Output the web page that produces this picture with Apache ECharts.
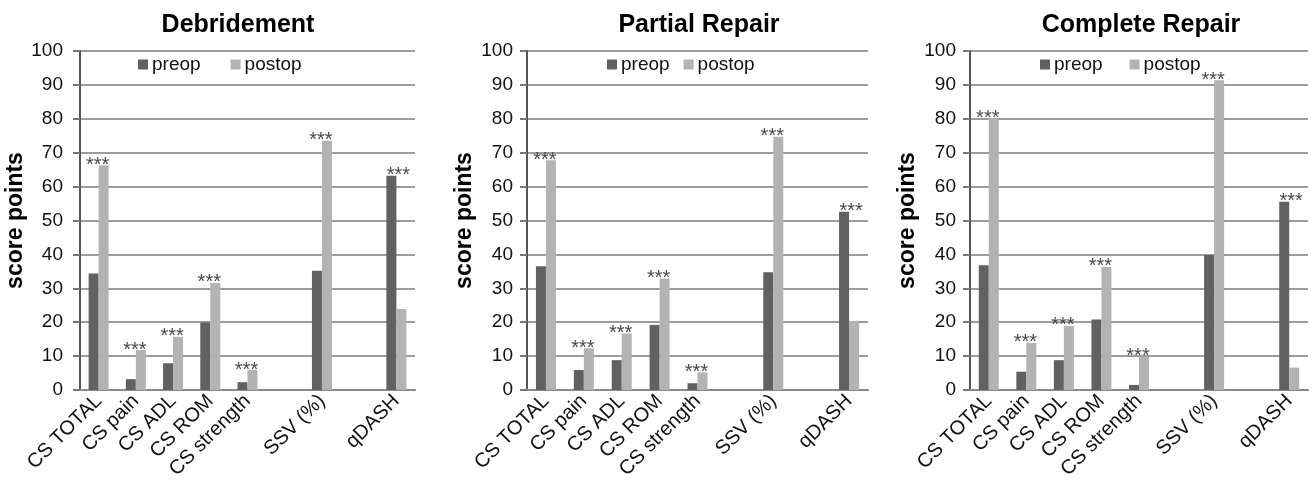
<!DOCTYPE html>
<html>
<head>
<meta charset="utf-8">
<script src="https://cdn.jsdelivr.net/npm/echarts@6/dist/echarts.min.js"></script>
<style>
html,body{margin:0;padding:0;background:#fff;}
#chart{width:1312px;height:484px;}
</style>
</head>
<body>
<div id="chart"></div>
<script>
// ---- data ----
const categories = ['CS TOTAL', 'CS pain', 'CS ADL', 'CS ROM', 'CS strength', '', 'SSV (%)', '', 'qDASH'];
const panelTitles = ['Debridement', 'Partial Repair', 'Complete Repair'];
const seriesNames = ['preop', 'postop'];
const yTicks = [0, 10, 20, 30, 40, 50, 60, 70, 80, 90, 100];
const significance = ['***', '***', '***', '***', '***', '', '***', '', '***'];

const debridementPreop  = [34.4, 3.2, 7.9, 19.9, 2.3, null, 35.2, null, 63.2];
const debridementPostop = [66.3, 11.8, 15.7, 31.6, 5.9, null, 73.5, null, 23.9];
const partialPreop      = [36.5, 5.9, 8.8, 19.2, 2.0, null, 34.7, null, 52.6];
const partialPostop     = [67.8, 12.3, 16.7, 32.9, 5.2, null, 74.7, null, 20.4];
const completePreop     = [36.8, 5.4, 8.8, 20.8, 1.5, null, 39.8, null, 55.5];
const completePostop    = [80.1, 13.9, 18.9, 36.3, 9.8, null, 91.4, null, 6.6];

const panelData = [
  [debridementPreop, debridementPostop],
  [partialPreop, partialPostop],
  [completePreop, completePostop]
];

// ---- layout / style ----
const FONT = '"Liberation Sans", Arial, sans-serif';
const PRE_COLOR = '#616161';
const POST_COLOR = '#b3b3b3';
const grids = [
  { left: 80, width: 335, top: 51, height: 339 },
  { left: 527, width: 341, top: 51, height: 339 },
  { left: 970, width: 338, top: 51, height: 339 }
];
const titleCenters = [233, 694, 1136];
const labelMargins = [17, 14, 14];
const legendLefts = [133, 602, 1035];
const legendGaps = [30, 14, 27];

const option = {
  backgroundColor: '#ffffff',
  animation: false,
  textStyle: { fontFamily: FONT },
  title: panelTitles.map((t, i) => ({
    text: t,
    left: titleCenters[i],
    top: 8,
    textAlign: 'center',
    textStyle: { fontFamily: FONT, fontWeight: 'bold', fontSize: 25, color: '#000' }
  })),
  legend: grids.map((g, i) => ({
    data: seriesNames,
    left: legendLefts[i],
    top: 50,
    itemWidth: 10,
    itemHeight: 10,
    itemGap: legendGaps[i],
    icon: 'rect',
    selectedMode: false,
    textStyle: { fontFamily: FONT, fontSize: 19, color: '#111', padding: [0, 0, 0, -1] }
  })),
  grid: grids.map(g => Object.assign({ containLabel: false }, g)),
  xAxis: grids.map((g, i) => ({
    type: 'category',
    gridIndex: i,
    data: categories,
    axisLine: { show: true, lineStyle: { color: '#8a8a8a', width: 2 } },
    axisTick: { show: false },
    axisLabel: {
      interval: 0, rotate: 45, margin: 8,
      fontFamily: FONT, fontSize: 20, color: '#111'
    }
  })),
  yAxis: grids.map((g, i) => ({
    type: 'value',
    gridIndex: i,
    min: yTicks[0],
    max: yTicks[yTicks.length - 1],
    interval: yTicks[1] - yTicks[0],
    name: 'score points',
    nameLocation: 'middle',
    nameRotate: 90,
    nameGap: 51,
    nameTextStyle: { fontFamily: FONT, fontWeight: 'bold', fontSize: 23, color: '#000' },
    axisLine: { show: true, lineStyle: { color: '#555', width: 2 } },
    axisTick: { show: true, length: 7, lineStyle: { color: '#777', width: 2 } },
    axisLabel: { margin: labelMargins[i], fontFamily: FONT, fontSize: 19, color: '#111' },
    splitLine: { show: true, lineStyle: { color: '#9c9c9c', width: 2 } }
  })),
  series: []
};

panelData.forEach((pair, p) => {
  const [pre, post] = pair;
  [pre, post].forEach((arr, s) => {
    const other = s === 0 ? post : pre;
    option.series.push({
      type: 'bar',
      name: seriesNames[s],
      xAxisIndex: p,
      yAxisIndex: p,
      barWidth: 10,
      barGap: '0%',
      itemStyle: { color: s === 0 ? PRE_COLOR : POST_COLOR },
      data: arr.map((v, k) => {
        if (v == null) return null;
        const taller = v >= (other[k] == null ? -Infinity : other[k]);
        if (taller && significance[k]) {
          return {
            value: v,
            label: {
              show: true,
              position: 'top',
              distance: 0,
              formatter: significance[k],
              offset: [s === 0 ? 7 : -6, 10],
              fontFamily: FONT,
              fontSize: 20,
              color: '#4a4a4a'
            }
          };
        }
        return v;
      })
    });
  });
});

const chart = echarts.init(document.getElementById('chart'), null, { renderer: 'canvas' });
chart.setOption(option);
</script>
</body>
</html>
